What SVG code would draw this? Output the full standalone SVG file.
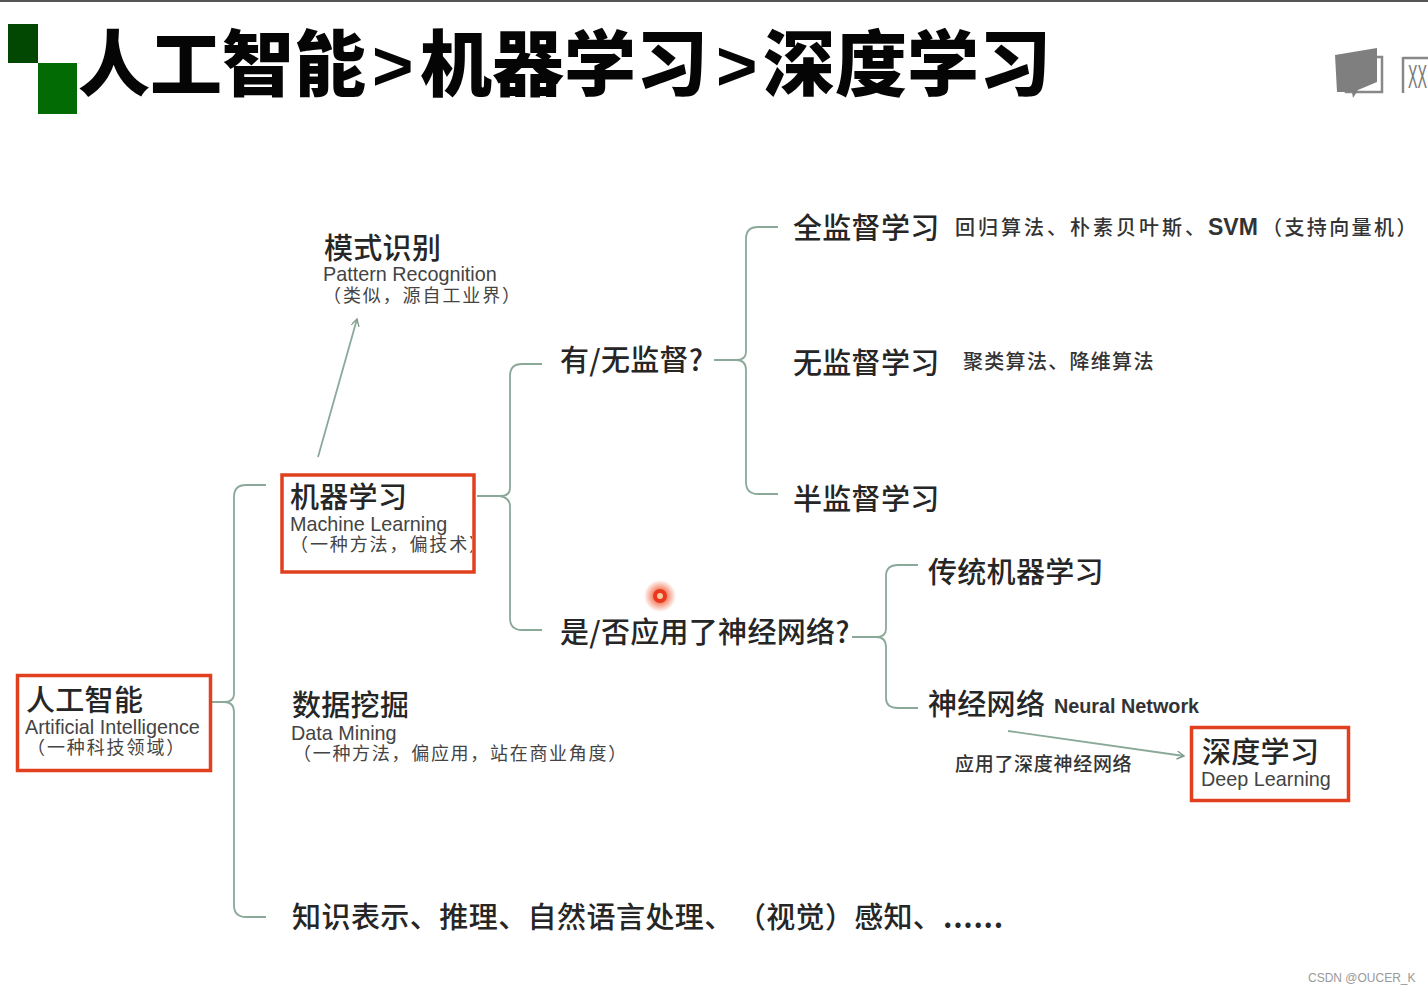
<svg xmlns="http://www.w3.org/2000/svg" width="1428" height="993" viewBox="0 0 1428 993">
<style>
text{font-family:"Noto Sans CJK SC","Liberation Sans",sans-serif;fill:#222}
.en{font-family:"Liberation Sans","Noto Sans CJK SC",sans-serif}
.t{font-size:72px;font-weight:900;fill:#050505}
.g{font-size:71px;font-weight:700;fill:#050505}
.h{font-size:29px;font-weight:500;fill:#262626;letter-spacing:.3px}
.s{font-size:18px;fill:#444;letter-spacing:1.900px}
.d{font-size:20px;font-weight:500;fill:#333;letter-spacing:1.300px}
.e{font-size:19.800px;fill:#444}
.box{fill:none;stroke:#e0401e;stroke-width:3.500}
.c{fill:none;stroke:#8ba999;stroke-width:1.800}
</style>
<defs>
<marker id="a" markerWidth="10" markerHeight="10" refX="8" refY="4" orient="auto" markerUnits="userSpaceOnUse"><path d="M1 0L8 4L1 8" fill="none" stroke="#7d9a8b" stroke-width="1.400"/></marker>
<radialGradient id="halo"><stop offset=".45" stop-color="#f58a70"/><stop offset="1" stop-color="#f58a70" stop-opacity="0"/></radialGradient>
<clipPath id="mlclip"><rect x="282" y="475" width="190" height="97"/></clipPath>
</defs>
<rect width="1428" height="993" fill="#fff"/>
<rect width="1428" height="2" fill="#555"/>
<g id="title">
<rect x="8" y="24" width="30" height="39" fill="#024802"/>
<rect x="38" y="63" width="39" height="51" fill="#036b03"/>
<text class="t" x="78" y="90">人工智能</text>
<text class="g en" x="372" y="90">&gt;</text>
<text class="t" x="420" y="90">机器学习</text>
<text class="g en" x="716" y="90">&gt;</text>
<text class="t" x="763" y="90">深度学习</text>
</g>
<g id="corner-icon">
<rect x="1346" y="57" width="36" height="35" fill="#fff" stroke="#888" stroke-width="2.500"/>
<path d="M1335 55L1377 48V82L1358 90L1353 98L1352 92H1337Z" fill="#7f7f7f"/>
<path d="M1403 57V93M1403 58H1428" stroke="#888" stroke-width="2.500" fill="none"/>
<text class="en" x="1408" y="88" font-size="34" textLength="19" lengthAdjust="spacingAndGlyphs" style="fill:#777">XX</text>
</g>
<g id="connectors">
<path class="c" d="M212 702H224Q234 702 234 694V497Q234 485 246 485H266"/>
<path class="c" d="M224 702Q234 702 234 712V905Q234 917 246 917H266"/>
<path class="c" d="M477 496H500Q510 496 510 488V376Q510 364 522 364H542"/>
<path class="c" d="M500 496Q510 498 510 506V618Q510 630 522 630H542"/>
<path class="c" d="M714 360H736Q746 360 746 352V239Q746 227 758 227H778"/>
<path class="c" d="M736 360Q746 360 746 370V482Q746 494 758 494H778"/>
<path class="c" d="M852 637H876Q886 637 886 629V576Q886 565 898 565H918"/>
<path class="c" d="M876 637Q886 637 886 647V698Q886 708 898 708H918"/>
<path class="c" d="M318 457L357 319" marker-end="url(#a)"/>
<path class="c" d="M1008 731L1184 756" marker-end="url(#a)"/>
</g>
<g id="ai">
<text class="h" x="26" y="711">人工智能</text>
<text class="e en" x="25" y="734">Artificial Intelligence</text>
<text class="s" x="27" y="754">（一种科技领域）</text>
<rect class="box" x="17.500" y="675.500" width="193" height="95"/></g>
<g id="ml">
<text class="h" x="290" y="508">机器学习</text>
<text class="e en" x="290" y="531">Machine Learning</text>
<text class="s" x="290" y="551" clip-path="url(#mlclip)">（一种方法，偏技术）</text>
<rect class="box" x="282" y="475" width="192" height="97"/></g>
<g id="pattern"><text class="h" x="324" y="259">模式识别</text>
<text class="e en" x="323" y="281">Pattern Recognition</text>
<text class="s" x="323" y="302">（类似，源自工业界）</text></g>
<g id="dm"><text class="h" x="292" y="716">数据挖掘</text>
<text class="e en" x="291" y="740">Data Mining</text>
<text class="s" x="293" y="760" style="letter-spacing:1.700px">（一种方法，偏应用，站在商业角度）</text></g>
<g id="others"><text class="h" x="292" y="928" style="letter-spacing:.45px">知识表示、推理、自然语言处理、</text>
<text class="h" x="737" y="928">（视觉）感知、</text>
<text class="h" x="943" y="928" style="font-weight:700;letter-spacing:.7px">......</text></g>
<g id="q1"><text class="h" x="560" y="371">有/无监督?</text></g>
<g id="q2"><text class="h" x="560" y="643">是/否应用了神经网络?</text></g>
<g id="sup"><text class="h" x="793" y="239">全监督学习</text>
<text class="d" x="955" y="235" style="letter-spacing:3px">回归算法、朴素贝叶斯、</text>
<text class="en" x="1208" y="235" font-size="23" font-weight="700" style="fill:#333">SVM</text>
<text class="d" x="1262" y="235" style="letter-spacing:2.400px">（支持向量机）</text></g>
<g id="unsup"><text class="h" x="793" y="374">无监督学习</text>
<text class="d" x="963" y="369">聚类算法、降维算法</text></g>
<g id="semi"><text class="h" x="793" y="510">半监督学习</text></g>
<g id="trad"><text class="h" x="928" y="583">传统机器学习</text></g>
<g id="nn"><text class="h" x="928" y="715">神经网络</text>
<text class="en" x="1054" y="713" font-size="19.800" font-weight="700" style="fill:#333">Neural Network</text></g>
<g id="dl-label"><text class="d" x="955" y="771" style="font-size:19px;letter-spacing:.7px">应用了深度神经网络</text></g>
<g id="dl">
<text class="h" x="1202" y="763">深度学习</text>
<text class="e en" x="1201" y="786">Deep Learning</text>
<rect class="box" x="1191.500" y="727.500" width="157" height="73"/></g>
<g id="pointer"><circle cx="660" cy="596" r="16" fill="url(#halo)"/><circle cx="660" cy="596" r="7" fill="#e8371c"/><circle cx="660" cy="596" r="3" fill="#f9c9a0"/></g>
<text class="en" x="1308" y="982" font-size="12" style="fill:#999">CSDN @OUCER_K</text>
</svg>
